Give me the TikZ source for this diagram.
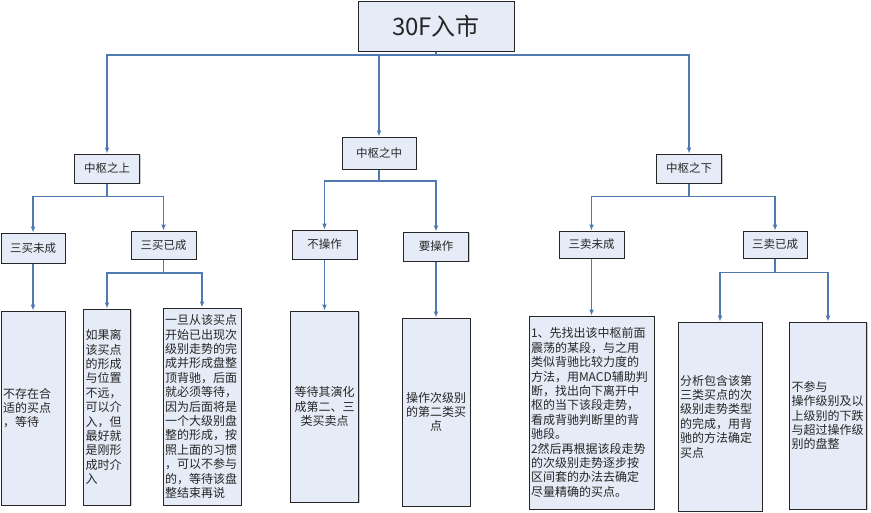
\documentclass[tikz,border=0pt]{standalone}
\usepackage{fontspec}
\setmainfont{Noto Sans CJK SC}
\usetikzlibrary{arrows.meta,shadows}
\definecolor{boxfill}{HTML}{E6ECF7}
\definecolor{linkblue}{HTML}{5079B2}
\tikzset{>={Latex[length=6pt,width=5pt]}}
\tikzstyle{link}  = [linkblue,
                     line width=1.2pt]
\tikzstyle{arrow} = [->,
                     link]
\tikzstyle{box}   = [draw=black!85,
                     line width=1pt,
                     fill=boxfill,
                     text=black!85,
                     inner sep=2pt,
                     drop shadow={shadow xshift=1pt,shadow yshift=-1pt,fill=black!40},
                     font=\fontsize{11.5}{13}\selectfont]
\tikzstyle{leaf}  = [box,
                     align=left,
                     font=\fontsize{12}{14.4}\selectfont]
\begin{document}
\begin{tikzpicture}[x=1pt,y=-1pt]
  \fill[white] (0,0) rectangle (871,512);
  \useasboundingbox (0,0) rectangle (871,512);

  % Nodes
  \node[box, minimum width=156pt, minimum height=50pt,
    font=\fontsize{24}{28}\selectfont] (market) at (436,26) {30F入市};

  \node[box, minimum width=65pt, minimum height=29pt] (above) at (107,168.5) {中枢之上};
  \node[box, minimum width=74pt, minimum height=32pt] (inside) at (379,153) {中枢之中};
  \node[box, minimum width=65pt, minimum height=29pt] (below) at (689,168.5) {中枢之下};

  \node[box, minimum width=64pt, minimum height=30pt] (buyno) at (33,248) {三买未成};
  \node[box, minimum width=65pt, minimum height=28pt] (buyyes) at (163.5,245) {三买已成};
  \node[box, minimum width=65pt, minimum height=29pt] (noop) at (324.5,244.5) {不操作};
  \node[box, minimum width=65pt, minimum height=29pt] (doop) at (436,246.5) {要操作};
  \node[box, minimum width=65pt, minimum height=27pt] (sellno) at (591.5,244.5) {三卖未成};
  \node[box, minimum width=64pt, minimum height=27pt] (sellyes) at (775,244.5) {三卖已成};

  \node[leaf, text width=60pt, minimum height=194pt] (wait) at (33,408)
    {不存在合\\适的买点\\，等待};
  \node[leaf, text width=43pt, minimum height=196pt] (enter) at (107,407)
    {如果离\\该买点\\的形成\\与位置\\不远，\\可以介\\入，但\\最好就\\是刚形\\成时介\\入};
  \node[leaf, text width=74pt, minimum height=197pt] (hold) at (202,406.5)
    {一旦从该买点\\开始已出现次\\级别走势的完\\成并形成盘整\\顶背驰，后面\\就必须等待，\\因为后面将是\\一个大级别盘\\整的形成，按\\照上面的习惯\\，可以不参与\\的，等待该盘\\整结束再说};
  \node[leaf, align=center, text width=64pt, minimum height=191pt] (evolve) at (324.5,406.5)
    {等待其演化\\成第二、三\\类买卖点};
  \node[leaf, align=center, text width=64pt, minimum height=188pt] (second) at (436,412)
    {操作次级别\\的第二类买\\点};
  \node[leaf, text width=121pt, minimum height=193pt] (seek) at (591.5,412.5)
    {1、先找出该中枢前面\\震荡的某段，与之用\\类似背驰比较力度的\\方法，用MACD辅助判\\断，找出向下离开中\\枢的当下该段走势，\\看成背驰判断里的背\\驰段。\\2然后再根据该段走势\\的次级别走势逐步按\\区间套的办法去确定\\尽量精确的买点。};
  \node[leaf, text width=80pt, minimum height=189pt] (analyse) at (720,416.5)
    {分析包含该第\\三类买点的次\\级别走势类型\\的完成，用背\\驰的方法确定\\买点};
  \node[leaf, text width=73pt, minimum height=187pt] (skip) at (828,415.5)
    {不参与\\操作级别及以\\上级别的下跌\\与超过操作级\\别的盘整};

  % Edges
  \draw[link] (market) -- ++(0,29) coordinate (top);
  \draw[arrow] (top) -| (above);
  \draw[arrow] (top) -| (inside);
  \draw[arrow] (top) -| (below);

  \draw[link] (above) -- ++(0,28) coordinate (up);
  \draw[arrow] (up) -| (buyno);
  \draw[arrow] (up) -| (buyyes);
  \draw[link] (inside) -- ++(0,28) coordinate (mid);
  \draw[arrow] (mid) -| (noop);
  \draw[arrow] (mid) -| (doop);
  \draw[link] (below) -- ++(0,28) coordinate (down);
  \draw[arrow] (down) -| (sellno);
  \draw[arrow] (down) -| (sellyes);

  \draw[arrow] (buyno) -- (wait);
  \draw[link] (buyyes) -- ++(0,28) coordinate (bought);
  \draw[arrow] (bought) -| (enter);
  \draw[arrow] (bought) -| (hold);
  \draw[arrow] (noop) -- (evolve);
  \draw[arrow] (doop) -- (second);
  \draw[arrow] (sellno) -- (seek);
  \draw[link] (sellyes) -- ++(0,28) coordinate (sold);
  \draw[arrow] (sold) -| (analyse);
  \draw[arrow] (sold) -| (skip);

\end{tikzpicture}
\end{document}
